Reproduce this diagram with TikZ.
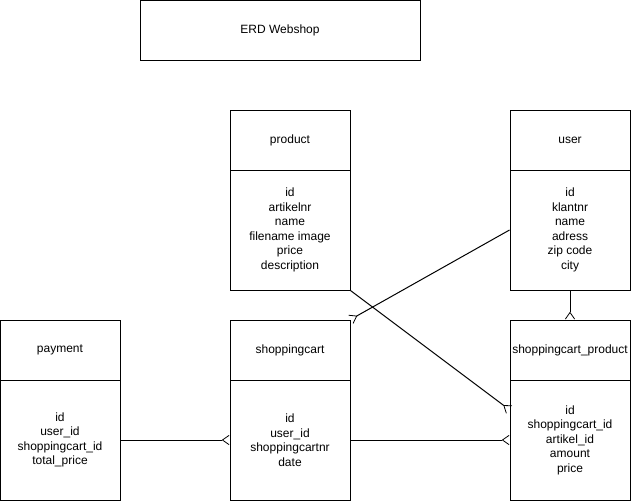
\documentclass[tikz,border=0pt]{standalone}
\usepackage{fontspec}
\setmainfont{Liberation Sans}
\usetikzlibrary{arrows.meta,calc}
\begin{document}
\begin{tikzpicture}[x=0.75pt,y=-0.75pt,
  box/.style={draw=black,line width=0.75pt,rectangle,inner sep=0pt,minimum width=120*0.75pt,align=center,font=\fontsize{9}{10.9}\selectfont},
  head/.style={box,minimum height=60*0.75pt},
  body/.style={box,minimum height=120*0.75pt},
  rel/.style={line width=0.75pt,-{Straight Barb[reversed,length=5pt,width=7pt,line width=0.6pt]}}]
\useasboundingbox (0,0) rectangle (631,501);
\node[box,minimum width=280*0.75pt,minimum height=60*0.75pt] (title) at (280,30) {ERD Webshop};
% product
\node[head] (prodh) at (290,140) {product};
\node[body] (prodb) at (290,230) {id\\artikelnr\\name\\filename image\\price\\description};
% user
\node[head] (userh) at (570,140) {user};
\node[body] (userb) at (570,230) {id\\klantnr\\name\\adress\\zip code\\city};
% payment
\node[head] (payh) at (60,350) {payment};
\node[body] (payb) at (60,440) {id\\user\_id\\shoppingcart\_id\\total\_price};
% shoppingcart
\node[head] (sch) at (290,350) {shoppingcart};
\node[body] (scb) at (290,440) {id\\user\_id\\shoppingcartnr\\date};
% shoppingcart_product
\node[head] (scph) at (570,350) {shoppingcart\_product};
\node[body] (scpb) at (570,440) {id\\shoppingcart\_id\\artikel\_id\\amount\\price};
\coordinate (scpin) at ($(scpb.north west)!0.25!(scpb.south west)$);
% relations
\draw[rel] (userb.west) -- (sch.north east);
\draw[rel] (prodb.south east) -- (scpin);
\draw[rel] (payb.east) -- (scb.west);
\draw[rel] (scb.east) -- (scpb.west);
\draw[rel] (userb.south) -- (scph.north);
\end{tikzpicture}
\end{document}
